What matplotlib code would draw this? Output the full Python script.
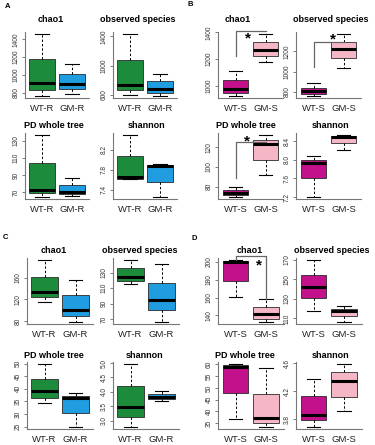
import matplotlib
matplotlib.use('Agg')
import matplotlib.pyplot as plt

plt.rcParams['font.family'] = ['Liberation Sans', 'DejaVu Sans']

W, H = 375, 445

metrics = ['chao1', 'observed species', 'PD whole tree', 'shannon']
groups_R = ['WT-R', 'GM-R']
groups_S = ['WT-S', 'GM-S']

# five-number summaries: [lower whisker, Q1, median, Q3, upper whisker]
A_chao1 = [[766, 834, 910, 1182, 1457], [789, 845, 895, 1015, 1128]]
A_obs = [[600, 669, 738, 1083, 1428], [590, 628, 683, 793, 890]]
A_pd = [[65, 69.5, 73, 104, 136], [66, 68, 70.5, 79, 87]]
A_shannon = [[7.62, 7.62, 7.65, 8.07, 8.48], [7.27, 7.55, 7.87, 7.89, 7.91]]

B_chao1 = [[925, 945, 975, 1045, 1110], [1175, 1222, 1265, 1325, 1385]]
B_obs = [[760, 775, 810, 835, 885], [1035, 1135, 1228, 1295, 1370]]
B_pd = [[70, 71.3, 73.3, 76.7, 80], [92, 107, 123, 127.7, 132]]
B_shannon = [[7.21, 7.61, 7.92, 8.0, 8.07], [8.21, 8.35, 8.48, 8.5, 8.52]]

C_chao1 = [[115.8, 125, 134.2, 161.8, 191.9], [78.9, 89.3, 99.8, 127.4, 155]]
C_obs = [[115, 119.2, 124.9, 135.5, 145.8], [67, 81.6, 94.4, 117.2, 140.7]]
C_pd = [[34.5, 36.5, 39, 44, 49.7], [25, 30.5, 36.3, 37.2, 38.3]]
C_shannon = [[2.8, 3.12, 3.48, 4.2, 4.95], [3.7, 3.76, 3.82, 3.93, 4.02]]

D_chao1 = [[160.5, 178, 200, 200.5, 201.5], [133.2, 136.3, 142, 149.5, 158.2]]
D_obs = [[118, 130.6, 142.6, 155, 169.5], [106.7, 112.7, 117.3, 119.3, 122.6]]
D_pd = [[36.6, 47.8, 59, 59.7, 60], [33.5, 35, 37, 47.5, 58.5]]
D_shannon = [[3.7, 3.79, 3.86, 4.14, 4.38], [3.92, 4.12, 4.35, 4.47, 4.58]]

# y tick values
A_ticks = [[800, 1000, 1200, 1400], [600, 1000, 1400], [70, 90, 110, 130], [7.4, 7.8, 8.2]]
B_ticks = [[1000, 1200, 1400], [800, 1000, 1200], [80, 100, 120], [7.2, 7.6, 8.0, 8.4]]
C_ticks = [[80, 120, 160], [70, 90, 110, 130], [25, 30, 35, 40, 45, 50], [3.0, 3.5, 4.0, 4.5, 5.0]]
D_ticks = [[140, 160, 180, 200], [110, 130, 150, 170], [35, 40, 45, 50, 55, 60], [3.8, 4.2, 4.6]]

green, blue = '#1c8c3c', '#1f9de0'
magenta, pink = '#c2118a', '#f5b6c6'

quads = {
    'A': dict(data=[A_chao1, A_obs, A_pd, A_shannon], ticks=A_ticks, labels=groups_R,
              colors=[green, blue], wt=[42, 130], rows=[(32, 98), (133, 199)], sp=30,
              letter=(5, 6),
              titles=[(51, 20), (138, 20), (54, 125), (146, 125)]),
    'B': dict(data=[B_chao1, B_obs, B_pd, B_shannon], ticks=B_ticks, labels=groups_S,
              colors=[magenta, pink], wt=[235.5, 313.5], rows=[(32, 98), (133, 199)], sp=30,
              letter=(188, 5),
              titles=[(238, 20), (331, 20), (246, 125), (331, 125)]),
    'C': dict(data=[C_chao1, C_obs, C_pd, C_shannon], ticks=C_ticks, labels=groups_R,
              colors=[green, blue], wt=[44.5, 130.5], rows=[(258, 324), (362, 429)], sp=31,
              letter=(3, 237),
              titles=[(54, 250), (140, 250), (54, 355), (145, 355)]),
    'D': dict(data=[D_chao1, D_obs, D_pd, D_shannon], ticks=D_ticks, labels=groups_S,
              colors=[magenta, pink], wt=[235.5, 313.5], rows=[(258, 324), (362, 429)], sp=30.5,
              letter=(191, 239),
              titles=[(250, 250), (332, 250), (245, 355), (331, 355)]),
}

# significance brackets: (quadrant, metric index, WT start y, bar y, GM end y, star x, star y)
# y in axes fraction, x in category units
sig = [
    ('B', 0, 0.63, 1.015, None, 1.42, 0.90),
    ('B', 1, 0.47, 0.855, None, 1.64, 0.89),
    ('B', 2, 0.32, 0.865, None, 1.38, 0.87),
    ('D', 0, 0.95, 1.03, 0.38, 1.78, 0.88),
]

fig = plt.figure(figsize=(W / 100, H / 100), dpi=100)
axes = {}

for q, cfg in quads.items():
    fig.text(cfg['letter'][0] / W, 1 - cfg['letter'][1] / H, q, fontsize=5.5,
             fontweight='bold', ha='left', va='center')
    for i, m in enumerate(metrics):
        r, c = divmod(i, 2)
        top, bot = cfg['rows'][r]
        sp = cfg['sp']
        left = cfg['wt'][c] - 0.58 * sp
        width = 2.16 * sp
        ax = fig.add_axes([left / W, 1 - bot / H, width / W, (bot - top) / H])
        axes[(q, i)] = ax
        d = cfg['data'][i]
        stats = [dict(whislo=s[0], q1=s[1], med=s[2], q3=s[3], whishi=s[4], label=l)
                 for s, l in zip(d, cfg['labels'])]
        bp = ax.bxp(stats, positions=[1, 2], widths=0.85, patch_artist=True,
                    showfliers=False,
                    boxprops=dict(edgecolor='#2a2a2a', linewidth=0.6),
                    medianprops=dict(color='black', linewidth=2.2, solid_capstyle='butt'),
                    whiskerprops=dict(color='black', linewidth=0.7, linestyle=(0, (2.5, 2))),
                    capprops=dict(color='black', linewidth=0.8),
                    capwidths=0.45)
        for patch, col in zip(bp['boxes'], cfg['colors']):
            patch.set_facecolor(col)
        lo = min(s[0] for s in d)
        hi = max(s[4] for s in d)
        rng = hi - lo
        ax.set_ylim(lo - 0.04 * rng, hi + 0.04 * rng)
        ax.set_xlim(0.42, 2.58)
        ticks = cfg['ticks'][i]
        ax.set_yticks(ticks)
        if m == 'shannon':
            ax.set_yticklabels(['%.1f' % t for t in ticks])
        else:
            ax.set_yticklabels(['%d' % t for t in ticks])
        ax.set_xticks([1, 2])
        ax.set_xticklabels(cfg['labels'])
        ax.tick_params(axis='x', length=0, pad=4, labelsize=6.8, labelcolor='#222222')
        ax.tick_params(axis='y', length=2.5, width=0.6, color='#666666', pad=1.2,
                       labelsize=4.7, labelcolor='#333333', labelrotation=90)
        for lab in ax.get_yticklabels():
            lab.set_va('center')
        for s in ['top', 'right']:
            ax.spines[s].set_visible(False)
        for s in ['left', 'bottom']:
            ax.spines[s].set_color('#777777')
            ax.spines[s].set_linewidth(0.8)
        tx, ty = cfg['titles'][i]
        fig.text(tx / W, 1 - ty / H, m, fontsize=6.5, fontweight='bold',
                 ha='center', va='center')

for q, i, y0, yh, y1, sx, sy in sig:
    ax = axes[(q, i)]
    tr = ax.get_xaxis_transform()
    xs = [1, 1, 2]
    ys = [y0, yh, yh]
    if y1 is not None:
        xs.append(2)
        ys.append(y1)
    ax.plot(xs, ys, color='#666666', linewidth=0.9, transform=tr, clip_on=False)
    ax.text(sx, sy, '*', fontsize=11, fontweight='bold', ha='center', va='center',
            transform=tr, clip_on=False)

fig.savefig('out.png', dpi=100)
